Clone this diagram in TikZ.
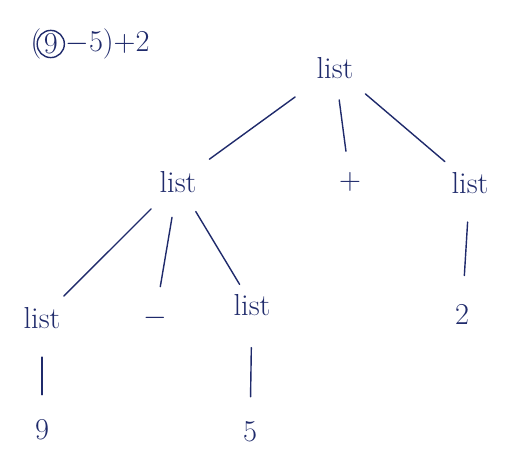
\documentclass[tikz,border=0pt]{standalone}
\usepackage{amsmath,amssymb}
\usepackage{xcolor}
\usepackage{tikz}
\usetikzlibrary{calc,positioning}
\definecolor{inkc}{HTML}{1F2A6B}
\tikzset{
  lbl/.style={font=\LARGE,inkc,inner sep=2pt},
  br/.style={inkc,thick,line cap=round}
}
\begin{document}
\begin{tikzpicture}[x=0.02cm,y=-0.02cm]
\useasboundingbox (0,0) rectangle (525,472);
% expression
\node[lbl] (open) at (36,44) {(};
\node[lbl,draw=inkc,thick,circle,inner sep=0.5pt,right=-5pt of open] (cnine) {9};
\node[lbl,right=-2pt of cnine] (rest) {$-$5$)+$2};
% tree nodes
\node[lbl] (root) at (335,68) {list};
\node[lbl] (la) at (178,182) {list};
\node[lbl] (plus) at (350,182) {$+$};
\node[lbl] (lb) at (470,183) {list};
\node[lbl] (laa) at (42,318) {list};
\node[lbl] (minus) at (155,318) {$-$};
\node[lbl] (lab) at (252,305) {list};
\node[lbl] (two) at (462,314) {2};
\node[lbl] (nine) at (42,430) {9};
\node[lbl] (five) at (250,432) {5};
% branches
\draw[br,shorten <=14pt,shorten >=8pt] (root) -- (la);
\draw[br,shorten <=10pt,shorten >=10pt] (root) -- (plus);
\draw[br,shorten <=10pt,shorten >=6pt] (root) -- (lb);
\draw[br,shorten <=10pt,shorten >=6pt] (la) -- (laa);
\draw[br,shorten <=12pt,shorten >=10pt] (la) -- (minus);
\draw[br,shorten <=10pt,shorten >=4pt] (la) -- (lab);
\draw[br,shorten <=14pt,shorten >=14pt] (lb) -- (two);
\draw[br,shorten <=14pt,shorten >=12pt] (laa) -- (nine);
\draw[br,shorten <=16pt,shorten >=12pt] (lab) -- (five);
\end{tikzpicture}
\end{document}
